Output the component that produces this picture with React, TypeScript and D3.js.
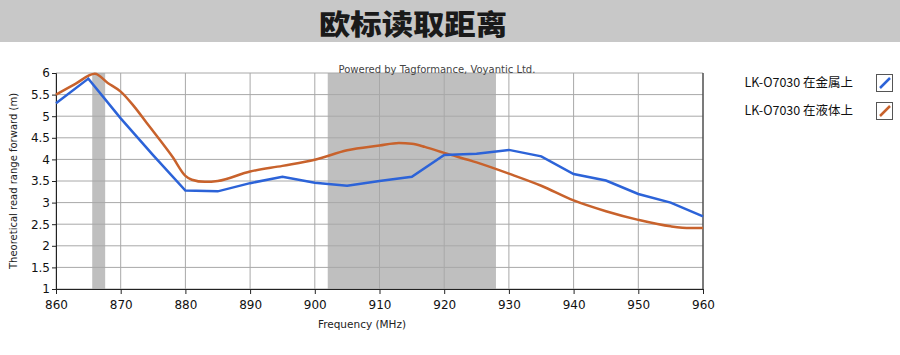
import React, { useEffect, useRef } from "react";
import * as d3 from "d3";

// frequencies (MHz) and read range (m)
const blueFreq = [860, 865, 870, 875, 880, 885, 890, 895, 900, 905, 910, 915, 920, 925, 930, 935, 940, 945, 950, 955, 960];
const blueVals = [5.3, 5.87, 4.95, 4.1, 3.28, 3.26, 3.45, 3.6, 3.46, 3.39, 3.5, 3.6, 4.1, 4.13, 4.22, 4.07, 3.66, 3.51, 3.2, 3.0, 2.68];

const orangeFreq = [860, 863, 866, 868, 870, 872, 874, 876, 878, 880, 881, 883, 885, 890, 895, 900, 905, 910, 913, 915, 917, 920, 925, 930, 935, 940, 945, 950, 955, 958, 960];
const orangeVals = [5.5, 5.75, 5.98, 5.77, 5.57, 5.24, 4.85, 4.46, 4.06, 3.62, 3.53, 3.48, 3.5, 3.72, 3.85, 3.99, 4.21, 4.32, 4.38, 4.36, 4.29, 4.15, 3.93, 3.67, 3.39, 3.05, 2.8, 2.6, 2.45, 2.41, 2.41];

const bands = [[865.6, 867.6], [902, 928]];
const xTicks = [860, 870, 880, 890, 900, 910, 920, 930, 940, 950, 960];
const yTicks = [1, 1.5, 2, 2.5, 3, 3.5, 4, 4.5, 5, 5.5, 6];

const seriesNames = ["LK-O7030 在金属上", "LK-O7030 在液体上"];
const seriesColors = ["#2c63d8", "#c8622c"];

const W = 900, H = 355;
const margin = { left: 56, right: 197, top: 73, bottom: 66 };

export default function App() {
  const ref = useRef<SVGSVGElement>(null);

  useEffect(() => {
    document.body.style.margin = "0";
    const svg = d3.select(ref.current);
    svg.selectAll("*").remove();
    const font = "'DejaVu Sans', Verdana, sans-serif";

    // title bar
    svg.append("rect").attr("x", 0).attr("y", 0).attr("width", W).attr("height", 42).attr("fill", "#c8c8c8");
    svg.append("text").attr("x", 413).attr("y", 35).attr("text-anchor", "middle")
      .attr("font-family", "'Noto Sans CJK SC', sans-serif").attr("font-weight", 900)
      .attr("font-size", 28).attr("textLength", 188).attr("lengthAdjust", "spacingAndGlyphs")
      .attr("fill", "#1a1a1a").text("欧标读取距离");

    const w = W - margin.left - margin.right;
    const h = H - margin.top - margin.bottom;
    const g = svg.append("g").attr("transform", `translate(${margin.left},${margin.top})`);

    const x = d3.scaleLinear().domain([860, 960]).range([0, w]);
    const y = d3.scaleLinear().domain([1, 6]).range([h, 0]);

    // gray bands
    bands.forEach(b => {
      g.append("rect").attr("x", x(b[0])).attr("y", 0)
        .attr("width", x(b[1]) - x(b[0])).attr("height", h).attr("fill", "#bfbfbf");
    });

    // grid
    g.selectAll(".vg").data(xTicks).enter().append("line")
      .attr("x1", d => x(d)).attr("x2", d => x(d)).attr("y1", 0).attr("y2", h)
      .attr("stroke", "#a8a8a8").attr("stroke-width", 1);
    g.selectAll(".hg").data(yTicks).enter().append("line")
      .attr("x1", 0).attr("x2", w).attr("y1", d => y(d)).attr("y2", d => y(d))
      .attr("stroke", "#a8a8a8").attr("stroke-width", 1);

    // axes
    const xa = g.append("g").attr("transform", `translate(0,${h})`)
      .call(d3.axisBottom(x).tickValues(xTicks).tickSize(5).tickPadding(6).tickFormat(d3.format("d")));
    const ya = g.append("g")
      .call(d3.axisLeft(y).tickValues(yTicks).tickSize(4).tickPadding(2).tickFormat(d => String(d)));
    [xa, ya].forEach(a => {
      a.select(".domain").attr("stroke", "#222");
      a.selectAll(".tick line").attr("stroke", "#222");
      a.selectAll("text").attr("font-family", font).attr("font-size", 12).attr("fill", "#111");
    });
    g.append("line").attr("x1", w).attr("x2", w).attr("y1", 0).attr("y2", h).attr("stroke", "#222");

    // lines
    const blueLine = d3.line<number>().x((d, i) => x(blueFreq[i])).y(d => y(d));
    const orangeLine = d3.line<number>().x((d, i) => x(orangeFreq[i])).y(d => y(d)).curve(d3.curveMonotoneX);
    g.append("path").attr("d", orangeLine(orangeVals)).attr("fill", "none")
      .attr("stroke", seriesColors[1]).attr("stroke-width", 2.5);
    g.append("path").attr("d", blueLine(blueVals)).attr("fill", "none")
      .attr("stroke", seriesColors[0]).attr("stroke-width", 2.5);

    // texts
    svg.append("text").attr("x", 437).attr("y", 73).attr("text-anchor", "middle")
      .attr("font-family", font).attr("font-size", 10).attr("fill", "#444")
      .text("Powered by Tagformance, Voyantic Ltd.");
    svg.append("text").attr("x", 362).attr("y", 328).attr("text-anchor", "middle")
      .attr("font-family", font).attr("font-size", 10.5).attr("fill", "#222").text("Frequency (MHz)");
    svg.append("text").attr("transform", `translate(17,${margin.top + h / 2}) rotate(-90)`)
      .attr("text-anchor", "middle").attr("font-family", font).attr("font-size", 10).attr("fill", "#222")
      .text("Theoretical read range forward (m)");

    // legend
    seriesNames.forEach((name, i) => {
      const ly = 83 + i * 28;
      svg.append("text").attr("x", 853).attr("y", ly + 4).attr("text-anchor", "end")
        .attr("font-family", "'Noto Sans CJK SC', sans-serif").attr("font-size", 12.5).attr("fill", "#111")
        .text(name);
      svg.append("rect").attr("x", 876.5).attr("y", ly - 8.5).attr("width", 16).attr("height", 17)
        .attr("fill", "#fff").attr("stroke", "#555");
      svg.append("line").attr("x1", 880).attr("y1", ly + 5).attr("x2", 890).attr("y2", ly - 5)
        .attr("stroke", seriesColors[i]).attr("stroke-width", 2.5);
    });
  }, []);

  return <svg ref={ref} width={W} height={H} style={{ display: "block" }} />;
}
